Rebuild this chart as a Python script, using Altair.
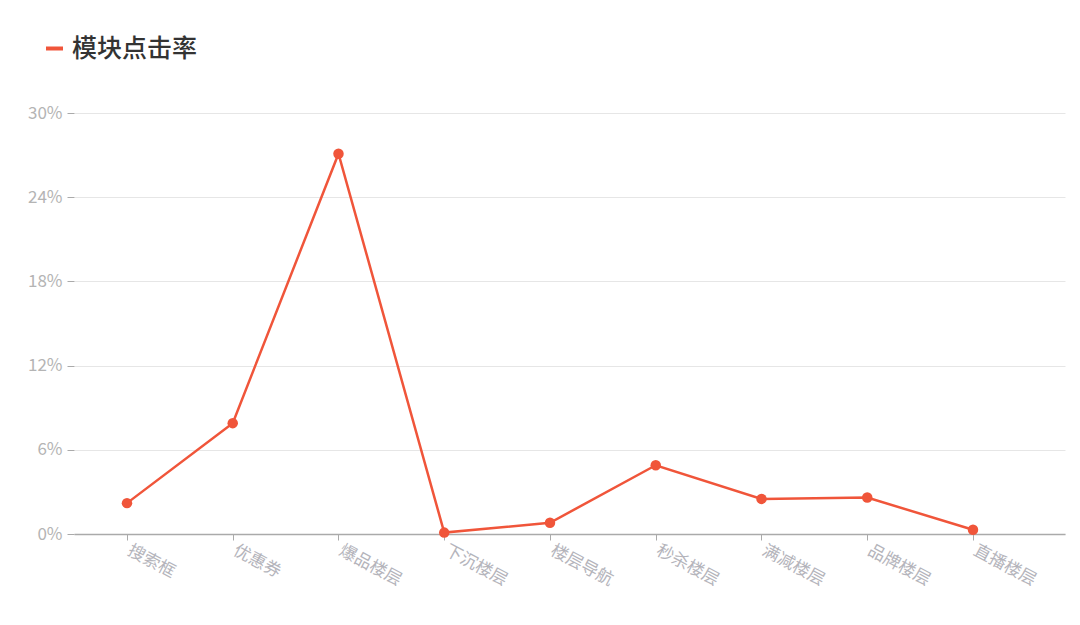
import altair as alt
import pandas as pd

categories = ["搜索框", "优惠券", "爆品楼层", "下沉楼层", "楼层导航", "秒杀楼层", "满减楼层", "品牌楼层", "直播楼层"]
rates = [0.022, 0.079, 0.271, 0.001, 0.008, 0.049, 0.025, 0.026, 0.003]
series_name = "模块点击率"
y_ticks = [0, 0.06, 0.12, 0.18, 0.24, 0.30]

df = pd.DataFrame({
    "idx": list(range(len(categories))),
    "模块": categories,
    "点击率": rates,
    "series": [series_name] * len(categories),
})

FONT = "Noto Sans CJK SC"
RED = "#F0553A"

label_expr = "[" + ",".join("'" + c + "'" for c in categories) + "][datum.value]"

base = alt.Chart(df).encode(
    x=alt.X("idx:Q",
            scale=alt.Scale(domain=[-0.501, 8.87], nice=False, zero=False),
            axis=alt.Axis(title=None, values=list(range(len(categories))), labelExpr=label_expr,
                          labelAngle=28, labelAlign="left", labelBaseline="top",
                          labelFontSize=17, labelColor="#b4b4bb", labelFont=FONT, labelPadding=2,
                          labelOffset=5,
                          tickSize=6, tickColor="#aaaaaa", domainColor="#aaaaaa", domainWidth=1.5,
                          labelFlush=False, labelOverlap=False, grid=False)),
    y=alt.Y("点击率:Q", scale=alt.Scale(domain=[0, 0.30], nice=False),
            axis=alt.Axis(title=None, values=y_ticks, format=".0%", labelFontSize=17,
                          labelColor="#b4b4b4", labelFont=FONT, labelPadding=5,
                          tickSize=7, tickColor="#aaaaaa", domain=False,
                          grid=True, gridColor="#e6e6e6", gridWidth=1)),
    color=alt.Color("series:N", scale=alt.Scale(domain=[series_name], range=[RED]),
                    legend=alt.Legend(title=None, orient="none", legendX=-32, legendY=-77,
                                      symbolType="stroke", symbolStrokeWidth=4, symbolSize=289,
                                      labelFontSize=25, labelColor="#333333", labelFont=FONT,
                                      labelFontWeight=500, labelOffset=5)),
)

line = base.mark_line(strokeWidth=2.5)
points = base.mark_point(filled=True, size=110, opacity=1)

chart = (line + points).properties(
    width=991, height=421,
    autosize=alt.AutoSizeParams(type="none"),
    padding={"left": 66, "top": 105, "right": 5, "bottom": 80},
).configure(font=FONT).configure_view(stroke=None)

chart.save("out.html", embed_options={"renderer": "svg", "actions": False})
